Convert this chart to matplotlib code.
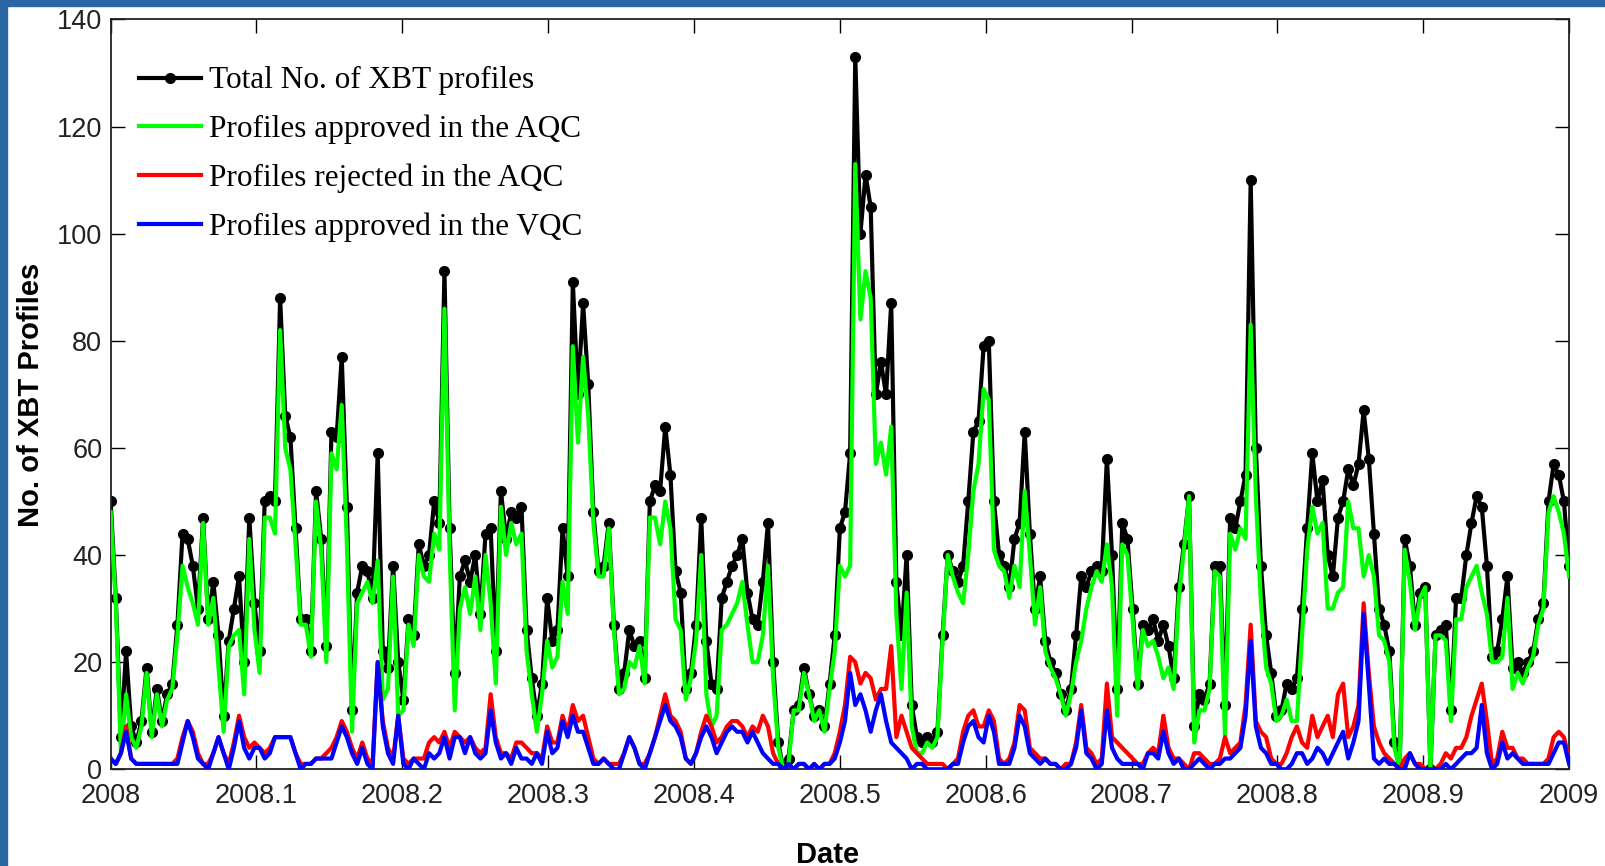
import matplotlib
matplotlib.use("Agg")
import matplotlib.pyplot as plt
from matplotlib.patches import Rectangle
import numpy as np

# daily-ish XBT profile counts for 2008
total = [50, 32, 6, 22, 8, 5, 9, 19, 7, 15,
         9, 14, 16, 27, 44, 43, 38, 30, 47, 28,
         35, 25, 10, 24, 30, 36, 20, 47, 31, 22,
         50, 51, 50, 88, 66, 62, 45, 28, 28, 22,
         52, 43, 23, 63, 62, 77, 49, 11, 33, 38,
         37, 32, 59, 22, 19, 38, 20, 13, 28, 25,
         42, 38, 40, 50, 46, 93, 45, 18, 36, 39,
         35, 40, 29, 44, 45, 22, 52, 43, 48, 47,
         49, 26, 17, 10, 16, 32, 24, 26, 45, 36,
         91, 70, 87, 72, 48, 37, 38, 46, 27, 15,
         18, 26, 23, 24, 17, 50, 53, 52, 64, 55,
         37, 33, 15, 18, 27, 47, 24, 16, 15, 32,
         35, 38, 40, 43, 33, 28, 27, 35, 46, 20,
         5, 0, 2, 11, 12, 19, 14, 10, 11, 8,
         16, 25, 45, 48, 59, 133, 100, 111, 105, 70,
         76, 70, 87, 35, 25, 40, 12, 6, 5, 6,
         5, 7, 25, 40, 37, 35, 38, 50, 63, 65,
         79, 80, 50, 40, 38, 34, 43, 46, 63, 44,
         30, 36, 24, 20, 18, 14, 11, 15, 25, 36,
         34, 37, 38, 37, 58, 40, 15, 46, 43, 30,
         16, 27, 26, 28, 24, 27, 23, 17, 34, 42,
         51, 8, 14, 13, 16, 38, 38, 12, 47, 45,
         50, 55, 110, 60, 38, 25, 18, 10, 11, 16,
         15, 17, 30, 45, 59, 50, 54, 40, 36, 47,
         50, 56, 53, 57, 67, 58, 44, 30, 27, 22,
         5, 0, 43, 38, 27, 33, 34, 0, 25, 26,
         27, 11, 32, 32, 40, 46, 51, 49, 38, 21,
         22, 28, 36, 19, 20, 18, 20, 22, 28, 31,
         50, 57, 55, 50, 38]

approved_aqc = [48, 31, 3, 14, 6, 4, 8, 18, 6, 14,
                8, 13, 15, 25, 38, 34, 31, 27, 46, 27,
                32, 19, 7, 23, 25, 26, 14, 43, 26, 18,
                47, 47, 44, 82, 60, 56, 42, 27, 27, 21,
                50, 41, 20, 59, 56, 68, 42, 7, 31, 33,
                35, 31, 39, 13, 15, 36, 10, 11, 27, 23,
                40, 36, 35, 44, 41, 86, 41, 11, 30, 34,
                29, 36, 26, 40, 31, 16, 49, 40, 46, 42,
                44, 22, 14, 7, 14, 24, 19, 21, 35, 29,
                79, 61, 77, 66, 46, 36, 36, 45, 26, 14,
                15, 20, 19, 23, 16, 47, 47, 42, 50, 45,
                28, 26, 13, 17, 24, 40, 14, 8, 10, 26,
                27, 29, 31, 35, 27, 20, 20, 25, 38, 17,
                4, 0, 1, 11, 11, 18, 14, 9, 11, 7,
                15, 22, 38, 36, 38, 113, 84, 93, 88, 57,
                61, 55, 64, 29, 15, 33, 8, 3, 3, 5,
                4, 6, 24, 40, 36, 33, 31, 40, 52, 57,
                71, 69, 41, 38, 37, 32, 38, 34, 52, 40,
                27, 34, 22, 19, 17, 14, 10, 14, 20, 24,
                30, 34, 37, 35, 42, 34, 10, 42, 40, 28,
                15, 26, 23, 24, 21, 17, 19, 15, 32, 41,
                51, 5, 11, 11, 15, 37, 36, 6, 44, 41,
                45, 43, 83, 51, 31, 19, 16, 9, 10, 13,
                9, 9, 25, 41, 49, 44, 46, 30, 30, 33,
                34, 50, 45, 45, 36, 40, 36, 25, 24, 20,
                4, 0, 41, 35, 26, 32, 34, 0, 25, 25,
                24, 9, 28, 28, 34, 36, 38, 33, 29, 20,
                20, 21, 32, 15, 18, 16, 19, 21, 27, 30,
                48, 51, 48, 44, 36]

rejected_aqc = [2, 1, 3, 8, 2, 1, 1, 1, 1, 1,
                1, 1, 1, 2, 6, 9, 7, 3, 1, 1,
                3, 6, 3, 1, 5, 10, 6, 4, 5, 4,
                3, 4, 6, 6, 6, 6, 3, 1, 1, 1,
                2, 2, 3, 4, 6, 9, 7, 4, 2, 5,
                2, 1, 20, 9, 4, 2, 10, 2, 1, 2,
                2, 2, 5, 6, 5, 7, 4, 7, 6, 5,
                6, 4, 3, 4, 14, 6, 3, 3, 2, 5,
                5, 4, 3, 3, 2, 8, 5, 5, 10, 7,
                12, 9, 10, 6, 2, 1, 2, 1, 1, 1,
                3, 6, 4, 1, 1, 3, 6, 10, 14, 10,
                9, 7, 2, 1, 3, 7, 10, 8, 5, 6,
                8, 9, 9, 8, 6, 8, 7, 10, 8, 3,
                1, 0, 1, 0, 1, 1, 0, 1, 0, 1,
                1, 3, 7, 12, 21, 20, 16, 18, 17, 13,
                15, 15, 23, 6, 10, 7, 4, 3, 2, 1,
                1, 1, 1, 0, 1, 2, 7, 10, 11, 8,
                8, 11, 9, 2, 1, 2, 5, 12, 11, 4,
                3, 2, 2, 1, 1, 0, 1, 1, 5, 12,
                4, 3, 1, 2, 16, 6, 5, 4, 3, 2,
                1, 1, 3, 4, 3, 10, 4, 2, 2, 1,
                0, 3, 3, 2, 1, 1, 2, 6, 3, 4,
                5, 12, 27, 9, 7, 6, 2, 1, 1, 3,
                6, 8, 5, 4, 10, 6, 8, 10, 6, 14,
                16, 6, 8, 12, 31, 18, 8, 5, 3, 2,
                1, 0, 2, 3, 1, 1, 0, 0, 0, 1,
                3, 2, 4, 4, 6, 10, 13, 16, 9, 1,
                2, 7, 4, 4, 2, 2, 1, 1, 1, 1,
                2, 6, 7, 6, 2]

approved_vqc = [2, 1, 3, 7, 2, 1, 1, 1, 1, 1,
                1, 1, 1, 1, 5, 9, 6, 2, 1, 0,
                3, 6, 3, 0, 4, 9, 4, 2, 4, 4,
                2, 3, 6, 6, 6, 6, 3, 0, 1, 1,
                2, 2, 2, 2, 5, 8, 6, 3, 1, 4,
                1, 0, 20, 8, 3, 1, 10, 1, 0, 2,
                1, 0, 3, 2, 3, 6, 2, 6, 6, 3,
                6, 3, 2, 3, 11, 5, 2, 3, 1, 4,
                2, 2, 1, 3, 1, 7, 3, 4, 9, 6,
                10, 7, 7, 4, 1, 1, 2, 1, 0, 0,
                3, 6, 4, 1, 0, 3, 6, 9, 12, 9,
                8, 6, 2, 1, 3, 6, 8, 6, 3, 5,
                7, 8, 7, 7, 5, 7, 5, 3, 2, 1,
                1, 0, 1, 0, 1, 1, 0, 1, 0, 1,
                1, 2, 5, 9, 18, 12, 14, 11, 7, 11,
                14, 9, 5, 4, 3, 2, 0, 1, 1, 0,
                0, 0, 0, 0, 1, 1, 5, 8, 9, 6,
                5, 10, 7, 1, 1, 1, 4, 10, 8, 3,
                2, 1, 2, 1, 1, 0, 0, 1, 4, 11,
                3, 2, 0, 1, 11, 4, 2, 1, 1, 1,
                1, 0, 3, 3, 2, 7, 3, 1, 2, 0,
                0, 1, 2, 1, 0, 1, 1, 2, 2, 3,
                4, 10, 24, 8, 4, 3, 1, 1, 0, 0,
                1, 3, 3, 1, 2, 4, 3, 1, 3, 5,
                7, 2, 5, 9, 29, 16, 2, 1, 2, 1,
                1, 0, 0, 3, 1, 0, 0, 0, 0, 0,
                1, 0, 1, 2, 3, 3, 4, 12, 3, 0,
                1, 5, 2, 3, 2, 1, 1, 1, 1, 1,
                1, 3, 5, 5, 1]

xticks = [2008, 2008.1, 2008.2, 2008.3, 2008.4, 2008.5,
          2008.6, 2008.7, 2008.8, 2008.9, 2009]
xtick_labels = ["2008", "2008.1", "2008.2", "2008.3", "2008.4", "2008.5",
                "2008.6", "2008.7", "2008.8", "2008.9", "2009"]
yticks = [0, 20, 40, 60, 80, 100, 120, 140]

date = np.linspace(2008.0, 2009.0, len(total))

sans = ["Liberation Sans", "DejaVu Sans"]
legend_font = ["Liberation Serif", "DejaVu Serif"]

fig = plt.figure(figsize=(16.06, 8.66), dpi=100)
fig.patch.set_facecolor("white")
# blue frame strips on the left and top
fig.patches.append(Rectangle((0, 0), 0.0045, 1, transform=fig.transFigure,
                             color="#2a66a3", zorder=0))
fig.patches.append(Rectangle((0, 0.993), 1, 0.007, transform=fig.transFigure,
                             color="#2a66a3", zorder=0))

ax = fig.add_axes([0.0689, 0.1117, 0.9081, 0.8658])

ax.plot(date, total, color="black", lw=3, marker="o", ms=7,
        label="Total No. of XBT profiles", zorder=2)
ax.plot(date, approved_aqc, color="#00ff00", lw=3,
        label="Profiles approved in the AQC", zorder=3)
ax.plot(date, rejected_aqc, color="#ff0000", lw=3,
        label="Profiles rejected in the AQC", zorder=4)
ax.plot(date, approved_vqc, color="#0000ff", lw=3,
        label="Profiles approved in the VQC", zorder=5)

ax.set_xlim(2008, 2009)
ax.set_ylim(0, 140)
ax.set_xticks(xticks)
ax.set_xticklabels(xtick_labels)
ax.set_yticks(yticks)
ax.tick_params(direction="in", length=10, width=1, top=True, right=True,
               labelsize=19.5, colors="black")
ax.tick_params(axis="x", pad=10)
ax.tick_params(axis="y", pad=6)
for lab in ax.get_xticklabels() + ax.get_yticklabels():
    lab.set_family(sans)
    lab.set_color("#222222")
for sp in ax.spines.values():
    sp.set_linewidth(1.3)
    sp.set_color("#222222")

ax.set_xlabel("Date", fontsize=21, fontweight="bold", family=sans)
ax.set_ylabel("No. of XBT Profiles", fontsize=21, fontweight="bold", family=sans)
ax.xaxis.set_label_coords(0.4916, -0.096)
ax.yaxis.set_label_coords(-0.045, 0.5)

ax.legend(loc="upper left", bbox_to_anchor=(0.011, 0.954), borderaxespad=0,
          frameon=False, handlelength=1.97, handletextpad=0.26,
          labelspacing=0.62, prop={"family": legend_font, "size": 22.5})

fig.savefig("out.png", dpi=100)
plt.close(fig)
